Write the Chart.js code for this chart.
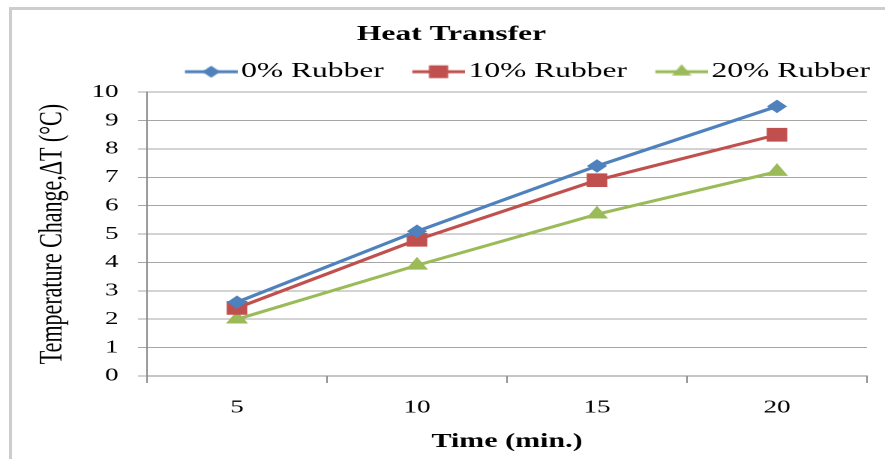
<!DOCTYPE html>
<html>
<head>
<meta charset="utf-8">
<script src="https://cdn.jsdelivr.net/npm/chart.js@4.4.0/dist/chart.umd.min.js"></script>
<style>
  html, body { margin: 0; padding: 0; background: #fff; overflow: hidden; width: 885px; height: 459px; }
  .edge { position: absolute; background: #cdcdcd; }
  #edgeLeft { left: 9px; top: 7px; width: 3px; height: 452px; }
  #edgeTop { left: 9px; top: 7px; width: 876px; height: 3px; }
  /* the picture is stretched sideways, so draw at 590 wide and widen it */
  #wrap { position: absolute; left: 0; top: 0; width: 590px; height: 459px;
          transform: scaleX(1.5); transform-origin: 0 0; }
</style>
</head>
<body>
<div class="edge" id="edgeLeft"></div>
<div class="edge" id="edgeTop"></div>
<div id="wrap"><canvas id="heatChart"></canvas></div>
<script>
var times = ['5', '10', '15', '20'];
var rubber0 = [2.6, 5.1, 7.4, 9.5];
var rubber10 = [2.4, 4.8, 6.9, 8.5];
var rubber20 = [2.0, 3.9, 5.7, 7.2];
var seriesNames = ['0% Rubber', '10% Rubber', '20% Rubber'];

var blue = '#4F81BD', red = '#C0504D', green = '#9BBB59';
var serif = '"Liberation Serif", "Times New Roman", serif';
var axisGray = '#8c8c8c';
var gridGray = '#a6a6a6';

// line + marker icon for the legend
function legendIcon(color, shape) {
    var c = document.createElement('canvas');
    c.width = 52;
    c.height = 16;
    var g = c.getContext('2d');
    g.strokeStyle = color;
    g.fillStyle = color;
    g.lineWidth = 3;
    g.beginPath();
    g.moveTo(17, 8);
    g.lineTo(52, 8);
    g.stroke();
    var cx = 34.5, cy = 8;
    g.beginPath();
    if (shape === 'rectRot') {
        g.moveTo(cx, cy - 6); g.lineTo(cx + 6, cy); g.lineTo(cx, cy + 6); g.lineTo(cx - 6, cy);
    } else if (shape === 'rect') {
        g.rect(cx - 6.4, cy - 6.4, 12.8, 12.8);
    } else {
        g.moveTo(cx, cy - 7.5); g.lineTo(cx + 6.5, cy + 3.75); g.lineTo(cx - 6.5, cy + 3.75);
    }
    g.closePath();
    g.fill();
    return c;
}
var icons = [legendIcon(blue, 'rectRot'), legendIcon(red, 'rect'), legendIcon(green, 'triangle')];

// title and legend may use the full width, the plot keeps its right margin
var widenTop = {
    id: 'widenTop',
    afterLayout: function (chart) {
        chart.legend.right = chart.width;
        chart.titleBlock.right = chart.width;
    }
};

new Chart(document.getElementById('heatChart'), {
    type: 'line',
    data: {
        labels: times,
        datasets: [{
            label: seriesNames[0],
            data: rubber0,
            borderColor: blue,
            backgroundColor: blue,
            pointStyle: 'rectRot',
            pointRadius: 6,
            borderWidth: 3,
            pointBorderWidth: 1
        }, {
            label: seriesNames[1],
            data: rubber10,
            borderColor: red,
            backgroundColor: red,
            pointStyle: 'rect',
            pointRadius: 9,
            borderWidth: 3,
            pointBorderWidth: 1
        }, {
            label: seriesNames[2],
            data: rubber20,
            borderColor: green,
            backgroundColor: green,
            pointStyle: 'triangle',
            pointRadius: 7.5,
            borderWidth: 3,
            pointBorderWidth: 1
        }]
    },
    plugins: [widenTop],
    options: {
        responsive: true,
        maintainAspectRatio: false,
        animation: false,
        devicePixelRatio: 2,
        layout: { padding: { left: 12, right: 12, top: 0, bottom: 0 } },
        plugins: {
            title: {
                display: true,
                text: 'Heat Transfer',
                color: '#000',
                font: { family: serif, size: 21, weight: 'bold' },
                padding: { top: 22, bottom: 4 }
            },
            legend: {
                position: 'top',
                align: 'end',
                labels: {
                    usePointStyle: true,
                    pointStyleWidth: 36,
                    padding: 10,
                    color: '#000',
                    font: { family: serif, size: 21 },
                    generateLabels: function (chart) {
                        var items = Chart.defaults.plugins.legend.labels.generateLabels(chart);
                        items.forEach(function (it, i) { it.pointStyle = icons[i]; });
                        return items;
                    }
                }
            },
            tooltip: { enabled: false }
        },
        scales: {
            x: {
                offset: true,
                grid: { offset: true, drawOnChartArea: false, tickLength: 7, color: axisGray },
                border: { color: axisGray, width: 1 },
                ticks: { padding: 14, color: '#000', font: { family: serif, size: 18 } },
                title: {
                    display: true,
                    text: 'Time (min.)',
                    color: '#000',
                    font: { family: serif, size: 20, weight: 'bold' },
                    padding: { top: 0, bottom: 5 }
                },
                afterFit: function (s) { s.height = 83; }
            },
            y: {
                min: 0,
                max: 10,
                ticks: { stepSize: 1, padding: 13, color: '#000', font: { family: serif, size: 18 } },
                grid: { color: gridGray, tickLength: 6 },
                border: { color: axisGray, width: 1 },
                title: {
                    display: true,
                    text: 'Temperature Change,ΔT (°C)',
                    color: '#000',
                    font: { family: serif, size: 22 },
                    padding: { top: 10, bottom: 0 }
                },
                afterFit: function (s) { s.width = 86; }
            }
        }
    }
});
</script>
</body>
</html>
